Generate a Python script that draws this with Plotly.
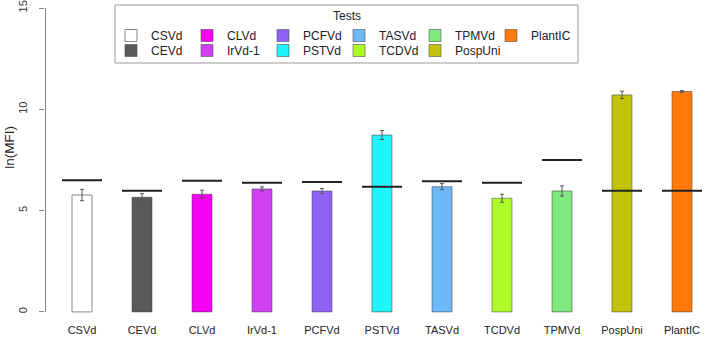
import plotly.graph_objects as go

categories = ["CSVd", "CEVd", "CLVd", "IrVd-1", "PCFVd", "PSTVd", "TASVd", "TCDVd", "TPMVd", "PospUni", "PlantIC"]
means = [5.77, 5.66, 5.81, 6.07, 5.97, 8.73, 6.18, 5.61, 5.97, 10.71, 10.88]
errors = [0.28, 0.18, 0.2, 0.1, 0.12, 0.22, 0.15, 0.2, 0.25, 0.18, 0.05]
thresholds = [6.5, 5.98, 6.48, 6.38, 6.41, 6.18, 6.45, 6.38, 7.5, 5.98, 5.98]
colors = ["#FFFFFF", "#595959", "#F500F5", "#D13FF2", "#8F62F5", "#1EF5FA",
          "#6CB8F8", "#ADFC2A", "#80E880", "#C2C40A", "#FF7A0A"]
y_ticks = [0, 5, 10, 15]

row1 = ["CSVd", "CLVd", "PCFVd", "TASVd", "TPMVd", "PlantIC"]

W, H = 707, 341
ML, MR, MT, MB = 45, 2, 7, 23
pw = W - ML - MR
ph = H - MT - MB
step = 60.0
x0 = -(82 - ML) / step
xr = [x0, x0 + pw / step]
ymin = -0.3
ymax = 15.05

def px2paper_x(px):
    return (px - ML) / pw

def px2paper_y(py):
    return (H - MB - py) / ph

fig = go.Figure()
idx = list(range(len(categories)))
for i, c in enumerate(categories):
    fig.add_trace(go.Bar(
        x=[i], y=[means[i]], width=1/3, name=c,
        marker=dict(color=colors[i], line=dict(color="#8a8a8a" if i == 0 else "rgba(70,70,70,0.55)", width=1)),
        error_y=dict(type="data", array=[errors[i]], color="#555555", thickness=1, width=2),
        legend="legend" if c in row1 else "legend2",
        showlegend=True,
    ))

# invisible spacer entries so the last legend labels are not clipped
for lg in ["legend", "legend2"]:
    fig.add_trace(go.Bar(x=[None], y=[None], name=" ", legend=lg, showlegend=True,
                         marker=dict(color="rgba(0,0,0,0)", line=dict(width=0)), hoverinfo="skip"))

lx, ly = [], []
for i, t in enumerate(thresholds):
    lx += [i - 1/3, i + 1/3, None]
    ly += [t, t, None]
fig.add_trace(go.Scatter(x=lx, y=ly, mode="lines", line=dict(color="#222222", width=2),
                         showlegend=False, hoverinfo="skip"))

legend_common = dict(orientation="h", bgcolor="rgba(0,0,0,0)", borderwidth=0,
                     font=dict(family="Liberation Sans, Arial", size=12, color="#222222"),
                     entrywidthmode="pixels", entrywidth=31, xanchor="left", yanchor="middle",
                     itemclick=False)

fig.update_layout(
    width=W, height=H,
    margin=dict(l=ML, r=MR, t=MT, b=MB, autoexpand=False),
    paper_bgcolor="white", plot_bgcolor="white",
    barmode="overlay",
    font=dict(family="Liberation Sans, Arial", size=11, color="#222222"),
    xaxis=dict(range=xr, tickvals=idx, ticktext=categories, showgrid=False, zeroline=False,
               showline=False, ticks="", tickfont=dict(size=11), fixedrange=True, automargin=False,
               ticklabelstandoff=4),
    yaxis=dict(range=[ymin, ymax], tickvals=y_ticks, showgrid=False, zeroline=False,
               showline=False, ticks="outside", ticklen=5, tickcolor="#888888",
               tickangle=-90, tickfont=dict(size=11, color="#333333"), fixedrange=True,
               automargin=False, ticklabelstandoff=8),
    legend=dict(legend_common, x=px2paper_x(111), y=px2paper_y(35.5)),
    legend2=dict(legend_common, x=px2paper_x(111), y=px2paper_y(50.5)),
    showlegend=True,
)

fig.add_shape(type="line", xref="paper", yref="y", x0=0.5 / pw, x1=0.5 / pw, y0=0, y1=15,
              line=dict(color="#888888", width=1), layer="above")
fig.add_shape(type="rect", xref="paper", yref="paper",
              x0=px2paper_x(115), x1=px2paper_x(578), y0=px2paper_y(63), y1=px2paper_y(5),
              line=dict(color="#999999", width=1), fillcolor="rgba(0,0,0,0)", layer="below")
fig.add_annotation(text="Tests", xref="paper", yref="paper", x=px2paper_x(347), y=px2paper_y(16),
                   showarrow=False, font=dict(size=12, color="#222222"), xanchor="center", yanchor="middle")
fig.add_annotation(text="ln(MFI)", xref="paper", yref="y", x=0, xshift=-35, y=8.1,
                   textangle=-90, showarrow=False, font=dict(size=13.5, color="#222222"),
                   xanchor="center", yanchor="middle")

fig.write_html("out.html", config={"displayModeBar": False},
               post_script="document.body.style.margin='0px';")
